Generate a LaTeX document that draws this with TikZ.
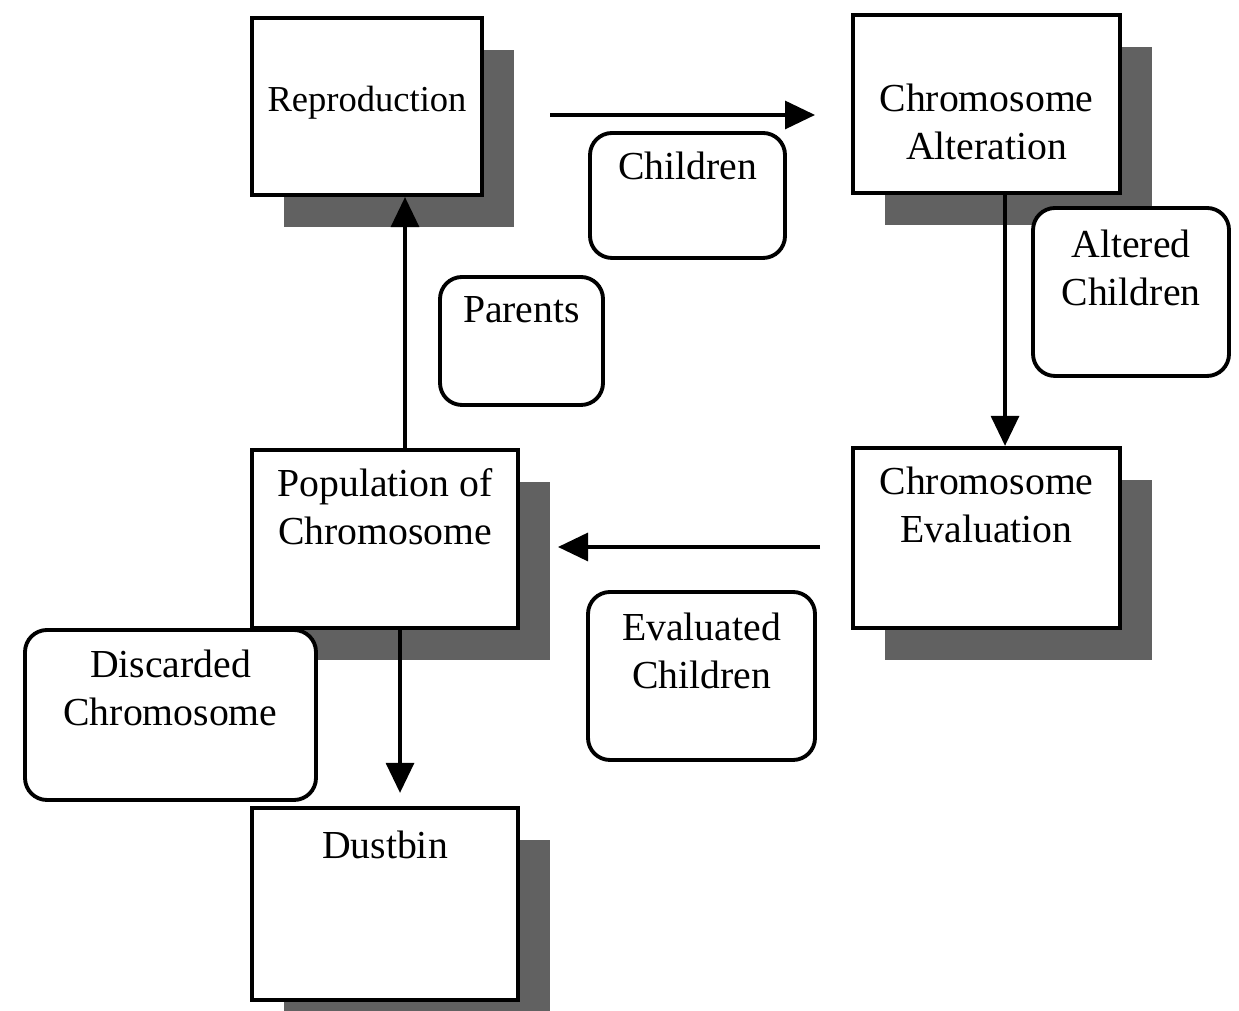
\documentclass[tikz,border=0pt]{standalone}
\usepackage{fontspec}
\setmainfont{Liberation Serif}
\usetikzlibrary{arrows.meta,positioning,calc,shadows}

\begin{document}
\begin{tikzpicture}[
  stage/.style={
    draw, line width=1.2pt, fill=white, minimum width=2.66cm, minimum height=1.78cm,
    drop shadow={shadow xshift=0.32cm, shadow yshift=-0.32cm, fill=black!62, opacity=1}
  },
  tag/.style={draw, line width=1.1pt, rounded corners=0.22cm, fill=white},
  txt/.style={font=\fontsize{11.3}{13.6}\selectfont, align=center, inner sep=0pt},
  arr/.style={-{Triangle[length=3mm, width=2.8mm]}, line width=0.9pt}
]
\useasboundingbox (0,0) rectangle (12.39,10.11);

% Stages of the cycle
\node[stage, minimum width=2.30cm, minimum height=1.77cm] (rep) at (3.67,9.045) {};
\node[stage, minimum width=2.67cm] (alt) at (9.865,9.07) {};
\node[stage] (pop) at (3.85,4.72) {};
\node[stage, minimum width=2.67cm, minimum height=1.80cm] (eval) at (9.865,4.73) {};
\node[stage, minimum height=1.92cm] (dust) at (3.85,1.07) {};

% Rounded tags
\node[tag, minimum width=1.95cm, minimum height=1.25cm] (chl) at (6.875,8.155) {};
\node[tag, minimum width=1.96cm, minimum height=1.68cm] (altchl) at (11.31,7.19) {};
\node[tag, minimum width=1.63cm, minimum height=1.28cm] (par) at (5.215,6.70) {};
\node[tag, minimum width=2.27cm, minimum height=1.68cm] (evchl) at (7.015,3.35) {};
\node[tag, minimum width=2.91cm, minimum height=1.70cm] (disc) at (1.705,2.96) {};

% Connectors
\coordinate (repout) at (5.50,8.96);
\coordinate (altin) at (8.15,8.96);
\coordinate (evalout) at (8.20,4.64);
\coordinate (popin) at (5.58,4.64);
\draw[arr] (repout) -- (altin);
\draw[arr] ([xshift=1.85mm]alt.south) -- ([xshift=1.85mm]alt.south |- eval.north);
\draw[arr] (evalout) -- (popin);
\draw[arr] ([xshift=2mm]pop.north) -- ([xshift=2mm]pop.north |- rep.south);
\draw[arr, shorten >=1.3mm] ([xshift=1.5mm]pop.south) -- ([xshift=1.5mm]pop.south |- dust.north);

% Texts
\node[txt, font=\fontsize{10.4}{12.5}\selectfont] (rept) at (3.67,9.08) {Reproduction};
\node[txt] (altt) at (9.865,8.89) {Chromosome\\Alteration};
\node[txt] (popt) at (3.85,5.04) {Population of\\Chromosome};
\node[txt] (evalt) at (9.865,5.06) {Chromosome\\Evaluation};
\node[txt] (dustt) at (3.85,1.66) {Dustbin};
\node[txt] (chlt) at (6.875,8.45) {Children};
\node[txt] (altchlt) at (11.31,7.43) {Altered\\Children};
\node[txt] (part) at (5.215,7.01) {Parents};
\node[txt] (evchlt) at (7.015,3.60) {Evaluated\\Children};
\node[txt] (disct) at (1.705,3.23) {Discarded\\Chromosome};

\end{tikzpicture}
\end{document}
